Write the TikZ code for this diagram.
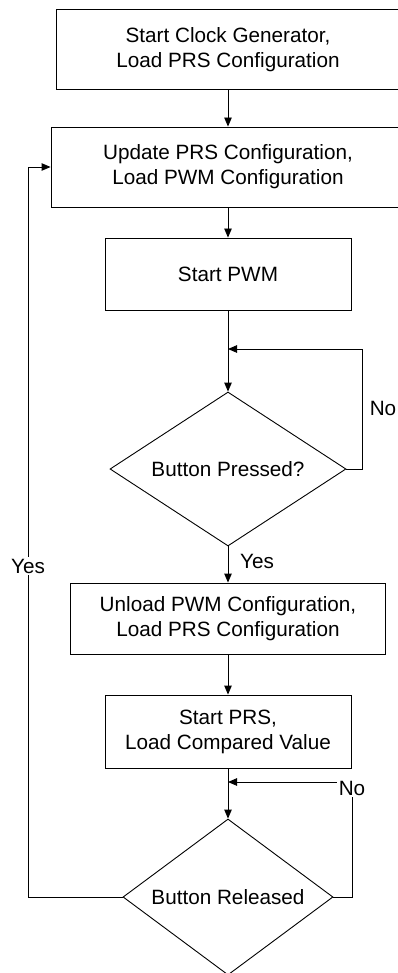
\documentclass[tikz,border=0pt]{standalone}
\usepackage{fontspec}
\setmainfont{Liberation Sans}
\usetikzlibrary{shapes.geometric,arrows.meta}
\begin{document}
\begin{tikzpicture}[x=1pt,y=-1pt,
  every node/.style={font=\fontsize{20.7}{25}\selectfont},
  box/.style={draw,line width=0.9pt,inner sep=0pt,align=center},
  dia/.style={draw,line width=0.9pt,diamond,inner sep=0pt,align=center},
  lbl/.style={inner sep=2pt},
  conn/.style={line width=0.9pt},
  arr/.style={line width=0.9pt,-{Triangle[length=9pt,width=7.5pt]}}]
\useasboundingbox (0,0) rectangle (398,973);
\node[box,minimum width=344pt,minimum height=79.5pt] (b1) at (228,49.25) {Start Clock Generator,\\Load PRS Configuration};
\node[box,minimum width=354pt,minimum height=80pt] (b2) at (228,167) {Update PRS Configuration,\\Load PWM Configuration};
\node[box,minimum width=246pt,minimum height=72pt] (b3) at (228,274) {Start PWM};
\node[dia,aspect=1.53,minimum width=236pt,minimum height=154pt] (d1) at (228,469) {Button Pressed?};
\node[box,minimum width=315pt,minimum height=71pt] (b4) at (228,618.5) {Unload PWM Configuration,\\Load PRS Configuration};
\node[box,minimum width=246pt,minimum height=73pt] (b5) at (228,731.5) {Start PRS,\\Load Compared Value};
\node[dia,aspect=1.35,minimum width=210pt,minimum height=156pt] (d2) at (228,897) {Button Released};
\node[lbl] (no1) at (383,408) {No};
\node[lbl] (yes1) at (257,561) {Yes};
\node[lbl] (no2) at (352,788) {No};
\node[lbl] (yes2) at (28,566) {Yes};
\coordinate (j1) at (228,349);
\coordinate (j2) at (228,782);
\draw[arr] (b1.south) -- (b2.north);
\draw[arr] (b2.south) -- (b3.north);
\draw[arr] (b3.south) -- (d1.north);
\draw[arr] (d1.east) -- ++(16,0) |- (j1);
\draw[arr] (d1.south) -- (b4.north);
\draw[arr] (b4.south) -- (b5.north);
\draw[arr] (b5.south) -- (d2.north);
\draw[conn] (d2.east) -| (no2.south);
\draw[arr] (no2.west |- j2) -- (j2);
\draw[conn] (d2.west) -| (yes2.south);
\draw[arr] (yes2.north) |- (b2.west);
\end{tikzpicture}
\end{document}
